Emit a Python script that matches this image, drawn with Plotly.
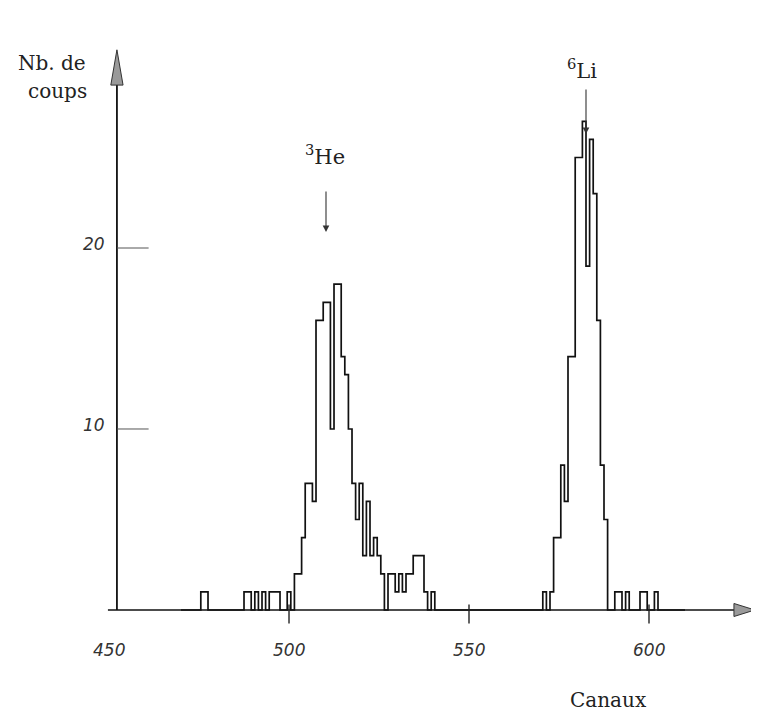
import plotly.graph_objects as go

# ---- data ----
channels = list(range(470, 611))
counts = [
    0, 0, 0, 0, 0, 0,                     # 470-475
    1, 1,                                 # 476-477
    0, 0, 0, 0, 0, 0, 0, 0, 0, 0,         # 478-487
    1, 1, 0, 1, 0, 1, 0, 1, 1, 1, 0, 0, 1, 0, 2, 2,   # 488-503
    4, 7, 7, 6, 16, 16, 17, 17, 10, 18, 18, 14, 13, 10, 7, 5,  # 504-519
    7, 3, 6, 3, 4, 3, 2, 0, 2, 2, 1, 2, 1, 2, 2, 3,  # 520-535
    3, 3, 1, 0, 1, 0,                     # 536-541
    0, 0, 0, 0, 0, 0, 0, 0, 0, 0,         # 542-551
    0, 0, 0, 0, 0, 0, 0, 0, 0, 0,         # 552-561
    0, 0, 0, 0, 0, 0, 0, 0, 0,            # 562-570
    1, 0, 1, 4, 4, 8, 6, 14, 14, 25, 25, 27, 19, 26, 23, 16,  # 571-586
    8, 5,                                 # 587-588
    0, 0, 1, 1, 0, 1, 0, 0, 0, 1, 1, 0, 0, 1, 0,  # 589-603
    0, 0, 0, 0, 0, 0, 0,                  # 604-610
]
x_ticks = [450, 500, 550, 600]
y_ticks = [10, 20]
peak_labels = ["<sup>3</sup>He", "<sup>6</sup>Li"]

W, H = 759, 718
OFF = 8  # page body margin
X0, X1 = 421.94, 632.78      # channel range across the figure width
Y0, Y1 = -6.41, 33.26        # count range across the figure height

def px(x):
    return (x - OFF) / W

def py(y):
    return 1 - (y - OFF) / H

fig = go.Figure()

fig.add_trace(go.Scatter(
    x=channels, y=counts, mode="lines", line_shape="hvh",
    line=dict(color="#111", width=1.7), hoverinfo="skip", showlegend=False,
))

shapes = []
shapes.append(dict(type="line", xref="x", yref="y", x0=449.7, x1=624.5, y0=0, y1=0,
                   line=dict(color="#111", width=1.6)))
shapes.append(dict(type="line", xref="x", yref="y", x0=452.2, x1=452.2, y0=0, y1=29.6,
                   line=dict(color="#111", width=1.8)))
shapes.append(dict(type="path", xref="x", yref="y",
                   path="M 623.6 -0.36 L 629.4 0 L 623.6 0.36 Z",
                   fillcolor="#9a9a9a", line=dict(color="#333", width=1)))
shapes.append(dict(type="path", xref="x", yref="y",
                   path="M 450.5 29.0 L 452.2 30.95 L 453.9 29.0 Z",
                   fillcolor="#9a9a9a", line=dict(color="#333", width=1)))
for t in y_ticks:
    shapes.append(dict(type="line", xref="x", yref="y", x0=452.2, x1=461.0, y0=t, y1=t,
                       line=dict(color="#555", width=1)))
for t in x_ticks[1:]:
    shapes.append(dict(type="line", xref="x", yref="y", x0=t, x1=t, y0=0.3, y1=-0.75,
                       line=dict(color="#222", width=1.4)))

ann = []
tick_font = dict(family="DejaVu Sans", size=17, color="#333", style="italic")
for t in x_ticks:
    ann.append(dict(x=t, y=-2.2, xref="x", yref="y", text=str(t), showarrow=False,
                    font=tick_font, xanchor="center", yanchor="middle"))
for t in y_ticks:
    ann.append(dict(x=449.5, y=t + 0.2, xref="x", yref="y", text=str(t), showarrow=False,
                    font=tick_font, xanchor="right", yanchor="middle"))

serif = dict(family="DejaVu Serif", size=20, color="#222")
ann.append(dict(x=px(52), y=py(63), xref="paper", yref="paper", text="Nb. de",
                showarrow=False, font=serif, xanchor="center", yanchor="middle"))
ann.append(dict(x=px(57), y=py(91), xref="paper", yref="paper", text="coups",
                showarrow=False, font=serif, xanchor="center", yanchor="middle"))
ann.append(dict(x=px(608), y=py(700), xref="paper", yref="paper", text="Canaux",
                showarrow=False, font=serif, xanchor="center", yanchor="middle"))
lab_font = dict(family="DejaVu Serif", size=21, color="#222")
ann.append(dict(x=px(325), y=py(155), xref="paper", yref="paper", text=peak_labels[0],
                showarrow=False, font=lab_font, xanchor="center", yanchor="middle"))
ann.append(dict(x=px(582), y=py(69), xref="paper", yref="paper", text=peak_labels[1],
                showarrow=False, font=lab_font, xanchor="center", yanchor="middle"))
ann.append(dict(x=px(326), y=py(232), xref="paper", yref="paper", text="",
                showarrow=True, ax=0, ay=-42, arrowhead=2, arrowsize=1.2, arrowwidth=1.1,
                arrowcolor="#333"))
ann.append(dict(x=px(586), y=py(134), xref="paper", yref="paper", text="",
                showarrow=True, ax=0, ay=-46, arrowhead=2, arrowsize=1.2, arrowwidth=1.1,
                arrowcolor="#333"))

fig.update_layout(
    width=W, height=H,
    margin=dict(l=0, r=0, t=0, b=0),
    paper_bgcolor="white", plot_bgcolor="white",
    xaxis=dict(range=[X0, X1], visible=False, fixedrange=True),
    yaxis=dict(range=[Y0, Y1], visible=False, fixedrange=True),
    shapes=shapes, annotations=ann, showlegend=False,
)

fig.write_html("out.html")
